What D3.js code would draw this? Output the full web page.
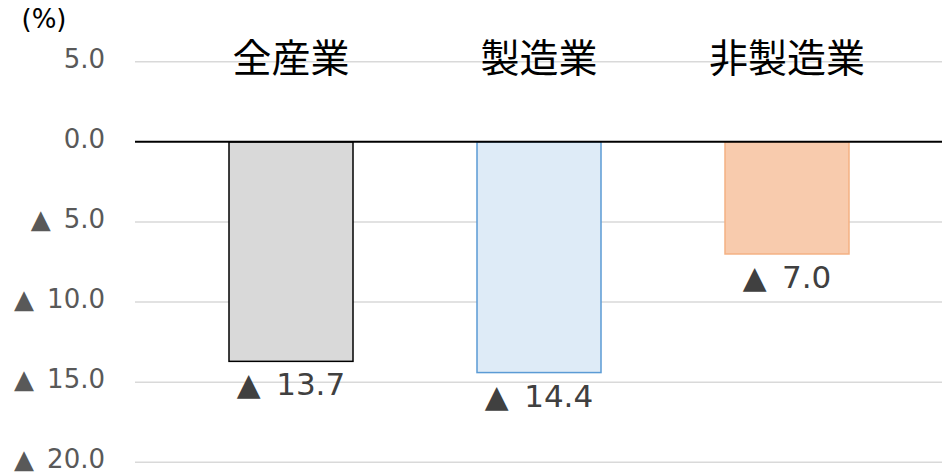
<!DOCTYPE html>
<html>
<head>
<meta charset="utf-8">
<script src="https://cdn.jsdelivr.net/npm/d3@7"></script>
<style>
  body { margin: 0; background: #fff; }
  text { font-family: "DejaVu Sans", "Noto Sans CJK JP", sans-serif; }
</style>
</head>
<body>
<script>
const categories = ["全産業", "製造業", "非製造業"];
const values = [-13.7, -14.4, -7.0];
const tickValues = [5, 0, -5, -10, -15, -20];
const fills = ["#d9d9d9", "#deebf7", "#f8cbad"];
const strokes = ["#000000", "#5b9bd5", "#f4b183"];

const width = 947;
const height = 473;

// label with a triangle for minus, as in the original
const fmt = v => (v < 0 ? "▲\u2002" : "") + Math.abs(v).toFixed(1);

const svg = d3.select("body").append("svg")
.attr("width", width)
.attr("height", height);

const x = d3.scaleBand()
.domain(categories)
.range([167, 911])
.paddingInner(0.5)
.paddingOuter(0.25);

const y = d3.scaleLinear()
.domain([-20, 5])
.range([462.3, 61.7]);

// gridlines
svg.append("g")
.selectAll("line")
.data(tickValues.filter(d => d !== 0))
.enter().append("line")
.attr("x1", 135)
.attr("x2", 942)
.attr("y1", d => y(d))
.attr("y2", d => y(d))
.style("stroke", "#d9d9d9")
.style("stroke-width", 1.5);

// y tick labels
svg.append("g")
.selectAll("text")
.data(tickValues)
.enter().append("text")
.attr("x", 105)
.attr("y", d => y(d) + 6)
.attr("text-anchor", "end")
.style("font-size", "26px")
.style("fill", "#595959")
.text(fmt);

svg.append("text")
.attr("x", 44)
.attr("y", 28)
.attr("text-anchor", "middle")
.style("font-size", "26px")
.style("fill", "#000")
.text("(%)");

// bars
svg.append("g")
.selectAll("rect")
.data(values)
.enter().append("rect")
.attr("x", (d, i) => x(categories[i]))
.attr("y", d => y(Math.max(0, d)))
.attr("width", x.bandwidth())
.attr("height", d => Math.abs(y(d) - y(0)))
.style("fill", (d, i) => fills[i])
.style("stroke", (d, i) => strokes[i])
.style("stroke-width", 1.5);

// zero line
svg.append("line")
.attr("x1", 135)
.attr("x2", 942)
.attr("y1", y(0))
.attr("y2", y(0))
.style("stroke", "#000")
.style("stroke-width", 2);

// category names at top
svg.append("g")
.selectAll("text")
.data(categories)
.enter().append("text")
.attr("x", d => x(d) + x.bandwidth() / 2)
.attr("y", 58.5)
.attr("text-anchor", "middle")
.attr("dominant-baseline", "central")
.style("font-size", "39px")
.style("fill", "#000")
.text(d => d);

// value labels under bars
svg.append("g")
.selectAll("text")
.data(values)
.enter().append("text")
.attr("x", (d, i) => x(categories[i]) + x.bandwidth() / 2)
.attr("y", d => y(d) + 34)
.attr("text-anchor", "middle")
.style("font-size", "31px")
.style("fill", "#404040")
.text(fmt);
</script>
</body>
</html>
